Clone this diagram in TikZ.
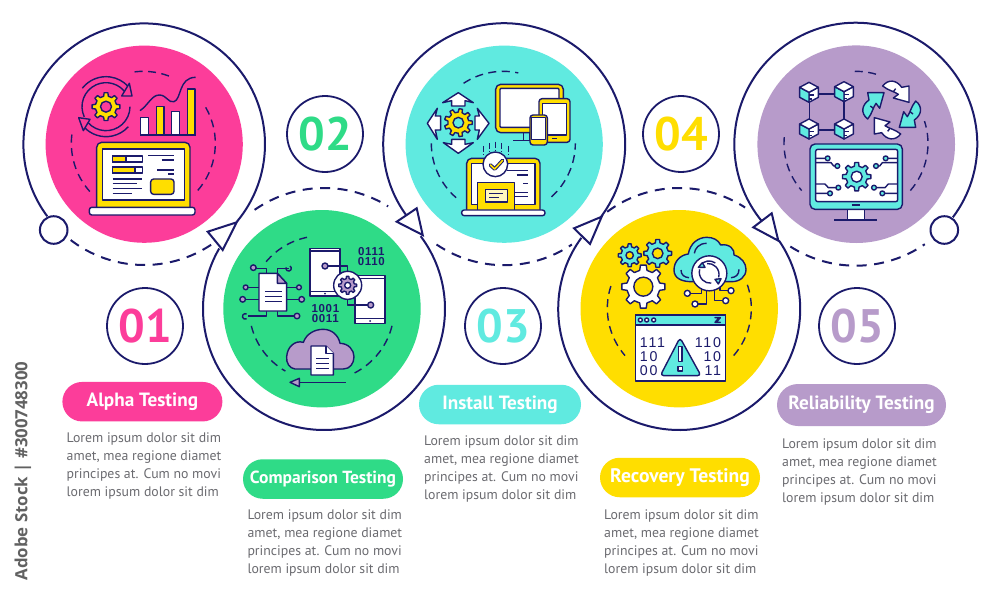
\documentclass[tikz,border=0pt]{standalone}
\usepackage{fontspec}
\setmainfont{PT Sans}
\newfontfamily\binfont[LetterSpace=6]{Liberation Sans}
\newfontfamily\binbig[LetterSpace=13]{Liberation Sans}
\newfontfamily\wmfont{Open Sans}
\usetikzlibrary{shapes.misc,calc}
\definecolor{navy}{HTML}{1B1A6B}
\definecolor{cpink}{HTML}{FC3D9A}
\definecolor{cgreen}{HTML}{2FDB87}
\definecolor{ccyan}{HTML}{60EAE0}
\definecolor{cyell}{HTML}{FFDE00}
\definecolor{cpurp}{HTML}{B79BCA}
\definecolor{ctext}{HTML}{6B6B70}
\tikzset{
  ring/.style={draw=navy,line width=2pt},
  ringdash/.style={draw=navy,line width=2pt,dash pattern=on 10pt off 7.5pt},
  innerdash/.style={draw=navy,line width=1.4pt,dash pattern=on 8pt off 5.5pt},
  ic/.style={draw=navy,line width=1.4pt,line join=round},
  numc/.style={circle,draw=navy,line width=1.8pt,fill=white,minimum size=76pt,inner sep=0pt,font=\bfseries\fontsize{47}{47}\selectfont},
  pill/.style={rounded rectangle,minimum width=160pt,minimum height=39.5pt,inner sep=0pt,text=white,font=\bfseries\fontsize{19.2}{20}\selectfont},
  lorem/.style={anchor=north west,inner sep=0pt,align=left,text=ctext,font=\fontsize{13.8}{17.7}\selectfont},
  binsm/.style={inner sep=0pt,text=navy,font=\binfont\bfseries\fontsize{11.5}{12}\selectfont},
  binlg/.style={inner sep=0pt,text=navy,font=\binbig\fontsize{14.2}{15}\selectfont},
}
\newcommand{\gearz}[7]{%
  \draw[ic,fill=#7,shift={(#1,#2)}] ({(1-.28)*360/#6}:#4pt)
    \foreach \k in {1,...,#6}{ -- ({(\k-.28)*360/#6}:#4pt) -- ({(\k-.17)*360/#6}:#3pt) -- ({(\k+.17)*360/#6}:#3pt) -- ({(\k+.28)*360/#6}:#4pt)} -- cycle;
}
\newcommand{\gearhole}[4]{\draw[ic,fill=#4] (#1,#2) circle[radius=#3pt];}
\newcommand{\cube}[2]{%
  \begin{scope}[shift={(#1,#2)}]
    \draw[ic,fill=white] (0,0) -- (28,-15) -- (28,15) -- (0,30) -- cycle;
    \draw[ic,fill=ccyan] (0,0) -- (-28,-15) -- (-28,15) -- (0,30) -- cycle;
    \draw[ic,fill=white] (0,0) -- (-28,-15) -- (0,-30) -- (28,-15) -- cycle;
    \draw[ic] (0,8) -- (14,8) (0,20) -- (10,20);
  \end{scope}}
\newcommand{\recy}[2]{%
  \begin{scope}[rotate=#1]
    \draw[ic,fill=#2] (-27,-72) .. controls (-10,-94) and (15,-90) .. (30,-68) -- (52,-72) -- (52,-23) -- (5,-36) -- (20,-47) .. controls (8,-56) and (-10,-58) .. (-27,-72) -- cycle;
    \draw[ic] (5,-55) -- (12,-64);
  \end{scope}}
\newcommand{\loremtext}{Lorem ipsum dolor sit dim\\amet, mea regione diamet\\principes at. Cum no movi\\lorem ipsum dolor sit dim}
\newcommand{\pilltext}[1]{\raisebox{-1pt}{#1}}
\begin{document}
\begin{tikzpicture}[x=1pt,y=-1pt]
\useasboundingbox (0,0) rectangle (1000,599);
\fill[white] (0,0) rectangle (1000,599);

% centres
\coordinate (c1) at (144.2,144.2);
\coordinate (c2) at (324,309);
\coordinate (c3) at (504.2,144.2);
\coordinate (c4) at (679.2,309);
\coordinate (c5) at (855.8,144.2);

% filled discs
\fill[cpink] (144.2,144.2) circle[radius=98.6pt];
\fill[cgreen] (322,308.7) circle[radius=98.7pt];
\fill[ccyan] (504.2,144.2) circle[radius=98.6pt];
\fill[cyell] (679.2,308.7) circle[radius=98.7pt];
\fill[cpurp] (856.2,144.2) circle[radius=98.8pt];

% rings
\draw[ring] ([shift={(216.6:120.8pt)}]c1) arc[start angle=216.6,end angle=-40,radius=120.8pt];
\draw[ringdash] ([shift={(232.5:120.8pt)}]c1) arc[start angle=232.5,end angle=304,radius=120.8pt];
\draw[ring] ([shift={(150:121pt)}]c2) arc[start angle=150,end angle=397,radius=121pt];
\draw[ringdash] ([shift={(125:121pt)}]c2) arc[start angle=125,end angle=58,radius=121pt];
\draw[ring] ([shift={(216:121pt)}]c3) arc[start angle=216,end angle=-36.6,radius=121pt];
\draw[ringdash] ([shift={(236:121pt)}]c3) arc[start angle=236,end angle=304,radius=121pt];
\draw[ring] ([shift={(144:121pt)}]c4) arc[start angle=144,end angle=394.5,radius=121pt];
\draw[ringdash] ([shift={(126.5:121pt)}]c4) arc[start angle=126.5,end angle=57,radius=121pt];
\draw[ring] ([shift={(219.6:121.5pt)}]c5) arc[start angle=219.6,end angle=-37,radius=121.5pt];
\draw[ringdash] ([shift={(237.4:121.5pt)}]c5) arc[start angle=237.4,end angle=304.6,radius=121.5pt];

% arrow triangles
\draw[ring,fill=white,line join=miter] (207.7,231.7) -- (236.7,222.3) -- (222.7,250) -- cycle;
\draw[ring,fill=white,line join=miter] (396.7,221.7) -- (416.7,208.3) -- (422.7,235) -- cycle;
\draw[ring,fill=white,line join=miter] (574,228.3) -- (601.7,216.7) -- (590,244) -- cycle;
\draw[ring,fill=white,line join=miter] (753.3,227.3) -- (771.7,213.3) -- (778.3,240.7) -- cycle;
% small end circles
\draw[ring,fill=white] (53.7,230) circle[radius=13.8pt];
\draw[ring,fill=white] (944.3,230) circle[radius=13.8pt];

% numbers
\node[numc,text=cpink] (n1) at (145,326) {01};
\node[numc,text=cgreen] (n2) at (325,134) {02};
\node[numc,text=ccyan] (n3) at (503,326) {03};
\node[numc,text=cyell] (n4) at (681,134) {04};
\node[numc,text=cpurp] (n5) at (857,326) {05};

% pills
\node[pill,fill=cpink] (p1) at (142.4,401.7) {\pilltext{Alpha Testing}};
\node[pill,fill=cgreen,font=\bfseries\fontsize{17.5}{20}\selectfont] (p2) at (323,479) {\pilltext{Comparison Testing}};
\node[pill,fill=ccyan,minimum width=162pt] (p3) at (500,404.5) {\pilltext{Install Testing}};
\node[pill,fill=cyell,minimum width=160pt,font=\bfseries\fontsize{19.6}{20}\selectfont] (p4) at (680,477.5) {\pilltext{Recovery Testing}};
\node[pill,fill=cpurp,minimum width=169pt,minimum height=42pt] (p5) at (861.5,405) {\pilltext{Reliability Testing}};

% lorem
\node[lorem] (t1) at (66.5,433) {\loremtext};
\node[lorem] (t2) at (247.3,510) {\loremtext};
\node[lorem] (t3) at (424,436) {\loremtext};
\node[lorem] (t4) at (604,510) {\loremtext};
\node[lorem] (t5) at (782,439) {\loremtext};

% watermark text
\node[rotate=90,inner sep=0pt,text=black!62,font=\wmfont\bfseries\fontsize{16.8}{18}\selectfont] (wm) at (23,471) {Adobe Stock | \#300748300};

%%%% ICON 1
\begin{scope}[shift={(20,20)},x=0.33333pt,y=-0.33333pt]
  \coordinate (i1) at (370,370);
  \draw[innerdash] ([shift={(97:72pt)}]i1) arc[start angle=97,end angle=65,radius=72pt];
  \draw[innerdash] ([shift={(30:72pt)}]i1) arc[start angle=30,end angle=-43,radius=72pt];
  \draw[innerdash] ([shift={(173:72pt)}]i1) arc[start angle=173,end angle=222,radius=72pt];
  % gear & arrows
  \coordinate (g1) at (258,260);
  \draw[ic] ([shift={(142:30pt)}]g1) arc[start angle=142,end angle=42,radius=30pt];
  \draw[ic] ([shift={(205:24pt)}]g1) arc[start angle=205,end angle=32,radius=24pt];
  \draw[ic] ([shift={(222:30pt)}]g1) arc[start angle=222,end angle=318,radius=30pt];
  \draw[ic] ([shift={(222:24pt)}]g1) arc[start angle=222,end angle=360,radius=24pt];
  \draw[ic,fill=cpink] (305,228) -- (336,228) -- (328,190) -- cycle;
  \draw[ic,fill=cpink] (176,293) -- (210,298) -- (190,332) -- cycle;
  \gearz{258}{260}{14}{10.7}{5.5}{8}{cyell}
  \gearhole{258}{260}{5.5}{cpink}
  % chart
  \draw[ic,fill=white] (362,293) rectangle (385,345);
  \draw[ic,fill=cyell] (410,260) rectangle (432,345);
  \draw[ic,fill=white] (455,275) rectangle (478,345);
  \draw[ic,fill=cyell] (502,207) rectangle (525,345);
  \draw[ic] (360,345) -- (527,345);
  \draw[ic] (360,272) .. controls (385,255) and (395,225) .. (418,225) .. controls (440,225) and (445,250) .. (462,245) .. controls (485,238) and (475,172) .. (527,172);
  % laptop
  \draw[ic,fill=cyell,rounded corners=5pt] (230,565) -- (230,367) -- (510,367) -- (510,565);
  \draw[ic,fill=white] (247,387) rectangle (493,540);
  \draw[ic,fill=white,rounded corners=2.5pt] (208,562) rectangle (525,585);
  \draw[ic,fill=white] (278,408) rectangle (367,426);
  \draw[ic,fill=cyell] (278,408) rectangle (318,426);
  \draw[ic,fill=white] (278,441) rectangle (367,459);
  \draw[ic,fill=cyell] (278,441) rectangle (345,459);
  \draw[ic] (385,407) -- (462,407) (425,420) -- (462,420) (412,450) -- (462,450) (445,462) -- (462,462);
  \draw[ic] (278,477) -- (367,477) (278,491) -- (352,491) (278,506) -- (367,506) (278,521) -- (337,521);
  \draw[ic,fill=cyell,rounded corners=3pt] (392,477) rectangle (462,523);
\end{scope}

%%%% ICON 2
\begin{scope}[shift={(200,180)},x=0.33333pt,y=-0.33333pt]
  \coordinate (i2) at (365,385);
  \draw[innerdash] ([shift={(140:72.5pt)}]i2) arc[start angle=140,end angle=101,radius=72.5pt];
  \draw[innerdash] ([shift={(194:72.5pt)}]i2) arc[start angle=194,end angle=240,radius=72.5pt];
  \draw[innerdash] ([shift={(297:72.5pt)}]i2) arc[start angle=297,end angle=347,radius=72.5pt];
  % circuit doc
  \draw[ic] (200,280) -- (200,265) -- (165,265) (232,280) -- (232,265) -- (268,265);
  \draw[ic] (177,322) -- (142,322) (177,358) -- (134,358) (200,393) -- (200,408) -- (145,408);
  \draw[ic] (260,322) -- (292,322) (260,358) -- (300,358) (232,393) -- (232,408) -- (285,408);
  \foreach \p/\q/\r in {160/263/2.8,137/322/2.4,128/358/2.8,297/322/2.4,305/358/2.8,291/408/2.8}
    \draw[ic,fill=cpurp] (\p,\q) circle[radius=\r pt];
  \draw[ic] (270,258) arc[start angle=60,end angle=-200,radius=2.7pt];
  \draw[ic] (140,402) arc[start angle=60,end angle=300,radius=2.8pt];
  \draw[ic,fill=white] (177,280) -- (232,280) -- (260,310) -- (260,393) -- (177,393) -- cycle;
  \draw[ic,fill=cpurp] (232,280) -- (232,310) -- (260,310) -- cycle;
  \draw[ic] (195,335) -- (245,335) (195,350) -- (245,350) (195,365) -- (245,365);
  % tablets
  \draw[ic,fill=white] (330,205) rectangle (420,348);
  \draw[ic] (330,213) -- (420,213) (330,335) -- (420,335);
  \fill[navy] (375,341) circle[radius=1pt];
  \draw[ic,fill=white] (465,287) rectangle (555,430);
  \draw[ic] (465,296) -- (555,296) (465,416) -- (555,416);
  \fill[navy] (510,423) circle[radius=1pt];
  \draw[ic] (384,258) -- (443,258) -- (443,375) -- (503,375);
  \draw[ic,fill=cpurp] (375,258) circle[radius=3pt];
  \draw[ic,fill=cpurp] (512,375) circle[radius=3pt];
  \draw[ic,fill=white] (443,316) circle[radius=14pt];
  \gearz{443}{316}{9}{6.8}{3}{8}{cpurp}
  \gearhole{443}{316}{3}{white}
  \node[binsm] (b1) at (514,216) {0111};
  \node[binsm] (b2) at (514,246) {0110};
  \node[binsm] (b3) at (376,385) {1001};
  \node[binsm] (b4) at (376,417) {0011};
  % cloud
  \draw[ic,fill=cpurp] (285,567) .. controls (268,565) and (258,548) .. (260,530) .. controls (262,500) and (285,480) .. (310,487) .. controls (320,460) and (345,448) .. (370,448) .. controls (395,448) and (415,465) .. (420,490) .. controls (445,490) and (462,510) .. (462,530) .. controls (462,550) and (450,567) .. (430,567) -- cycle;
  \draw[ic,fill=white] (333,498) -- (378,498) -- (400,520) -- (400,585) -- (333,585) -- cycle;
  \draw[ic,fill=white] (378,498) -- (378,520) -- (400,520);
  \draw[ic] (348,535) -- (388,535) (348,550) -- (388,550) (348,565) -- (388,565);
  \draw[ic] (437,607) -- (298,607);
  \draw[ic,fill=cpurp] (298,595) -- (298,620) -- (270,607) -- cycle;
\end{scope}

%%%% ICON 3
\begin{scope}[shift={(380,20)},x=0.33333pt,y=-0.33333pt]
  \coordinate (i3) at (370,370);
  \draw[innerdash] ([shift={(123.5:72pt)}]i3) arc[start angle=123.5,end angle=78,radius=72pt];
  \draw[innerdash] ([shift={(180:72pt)}]i3) arc[start angle=180,end angle=229,radius=72pt];
  \draw[innerdash] ([shift={(312:72pt)}]i3) arc[start angle=312,end angle=360,radius=72pt];
  % arrows
  \draw[ic,fill=white] (188,248) -- (235,218) -- (280,248) -- (255,242) -- (255,258) -- (215,258) -- (215,242) -- cycle;
  \draw[ic,fill=white] (190,368) -- (235,400) -- (280,368) -- (255,373) -- (255,358) -- (215,358) -- (215,373) -- cycle;
  \draw[ic,fill=white] (142,310) -- (172,265) -- (166,288) -- (182,288) -- (182,330) -- (166,330) -- (172,358) -- cycle;
  \draw[ic,fill=white] (327,310) -- (292,265) -- (298,288) -- (285,288) -- (285,330) -- (298,330) -- (292,358) -- cycle;
  \gearz{235}{308}{14}{10.5}{5.3}{9}{cyell}
  \gearhole{235}{308}{5.3}{ccyan}
  % devices
  \draw[ic] (430,338) -- (430,362) (448,338) -- (448,362) (400,362) -- (470,362);
  \draw[ic,fill=cyell,rounded corners=5pt] (347,193) rectangle (550,338);
  \draw[ic,fill=white,rounded corners=1pt] (360,205) rectangle (537,322);
  \draw[ic,fill=cyell,rounded corners=3pt] (477,236) rectangle (570,367);
  \draw[ic,fill=white] (488,250) rectangle (560,345);
  \draw[ic] (516,356) -- (530,356);
  \draw[ic,fill=cyell,rounded corners=3pt] (450,285) rectangle (502,375);
  \draw[ic,fill=white] (455,292) rectangle (497,358);
  % laptop
  \draw[ic,fill=cyell,rounded corners=5pt] (260,575) -- (260,415) -- (480,415) -- (480,575);
  \draw[ic,fill=white] (275,430) rectangle (465,553);
  \draw[ic] (380,452) -- (443,452) (410,465) -- (443,465) (430,490) -- (443,490) (405,518) -- (443,518) (405,530) -- (443,530);
  \draw[ic,fill=cyell] (293,487) rectangle (403,572);
  \draw[ic,fill=white!75!cyell] (316,508) rectangle (382,546);
  \draw[ic] (328,521) -- (370,521) (328,533) -- (358,533);
  \draw[ic,fill=white,rounded corners=2.5pt] (245,570) rectangle (495,587);
  \draw[ic,dash pattern=on 6pt off 2pt] (310,378) -- (310,405) (328,370) -- (328,395) (347,365) -- (347,390) (365,370) -- (365,395) (385,378) -- (385,405);
  \draw[ic,fill=white] (346,433) circle[radius=12.3pt];
  \draw[navy,line width=3.6pt,line cap=round,line join=round] (331,435) -- (344,447) -- (368,421);
  \draw[cyell,line width=1.6pt,line cap=round,line join=round] (331,435) -- (344,447) -- (368,421);
\end{scope}

%%%% ICON 4
\begin{scope}[shift={(555,180)},x=0.33333pt,y=-0.33333pt]
  \coordinate (i4) at (373,385);
  \draw[innerdash] ([shift={(162:72pt)}]i4) arc[start angle=162,end angle=221,radius=72pt];
  \draw[innerdash] ([shift={(319:72pt)}]i4) arc[start angle=319,end angle=381,radius=72pt];
  \gearz{224}{226}{11.5}{8.7}{3.7}{8}{ccyan}
  \gearhole{224}{226}{3.7}{cyell}
  \gearz{308}{220}{14}{10.7}{5.3}{8}{ccyan}
  \gearhole{308}{220}{5.3}{cyell}
  \gearz{265}{320}{21.7}{16.7}{9.5}{8}{white}
  \gearhole{265}{320}{9.5}{cyell}
  % cloud
  \draw[ic,fill=ccyan] (410,305) .. controls (380,305) and (357,295) .. (357,270) .. controls (357,245) and (375,225) .. (400,222) .. controls (405,190) and (430,172) .. (455,172) .. controls (475,172) and (490,180) .. (497,195) .. controls (525,190) and (540,210) .. (537,225) .. controls (560,232) and (573,250) .. (573,268) .. controls (573,290) and (555,305) .. (530,305) -- cycle;
  \draw[ic] (378,270) .. controls (378,285) and (388,292) .. (402,293);
  \draw[ic] (552,268) .. controls (552,285) and (542,292) .. (528,293);
  \draw[ic] (418,220) .. controls (420,205) and (432,190) .. (455,190);
  % circuit
  \draw[ic] (440,325) -- (440,340) -- (405,340) (455,330) -- (455,372) -- (429,372) (478,330) -- (478,362) -- (503,362) (495,320) -- (495,332) -- (519,332);
  \foreach \p/\q in {397/340,420/372,512/362,528/332}
    \draw[ic,fill=white] (\p,\q) circle[radius=3pt];
  \draw[ic,fill=white] (463,280) circle[radius=17.5pt];
  \draw[ic] (463,243) ++(-28,14) arc[start angle=145,end angle=55,radius=11pt];
  \draw[ic] (434,268) arc[start angle=165,end angle=275,radius=11pt];
  \draw[ic] (491,292) arc[start angle=-15,end angle=95,radius=11pt];
  \draw[ic,fill=ccyan] (430,262) -- (450,262) -- (442,248) -- cycle;
  \draw[ic,fill=ccyan] (480,298) -- (498,296) -- (490,312) -- cycle;
  % window
  \draw[ic,fill=white] (241,405) rectangle (511,603);
  \draw[ic,fill=ccyan] (241,405) rectangle (511,435);
  \foreach \p in {256,275,296}
    \draw[ic,fill=white] (\p,420) circle[radius=2pt];
  \draw[ic,fill=white] (480,413) -- (496,413) -- (484,427) -- (496,427) -- (480,427) -- (492,413) -- cycle;
  \node[binlg,anchor=west] (w1) at (254,488) {111};
  \node[binlg,anchor=east] (w2) at (499,488) {110};
  \node[binlg,anchor=west] (w3) at (254,530) {10};
  \node[binlg,anchor=east] (w4) at (499,530) {10};
  \node[binlg,anchor=west] (w5) at (254,572) {00};
  \node[binlg,anchor=east] (w6) at (499,572) {11};
  \draw[ic,fill=ccyan,rounded corners=3.5pt] (375,473) -- (438,587) -- (316,587) -- cycle;
  \draw[ic,fill=white] (370,500) rectangle (381,545);
  \draw[ic,fill=white] (369,560) rectangle (382,573);
\end{scope}

%%%% ICON 5
\begin{scope}[shift={(730,20)},x=0.33333pt,y=-0.33333pt]
  \coordinate (i5) at (378,370);
  \draw[innerdash] ([shift={(91:72pt)}]i5) arc[start angle=91,end angle=73,radius=72pt];
  \draw[innerdash] ([shift={(175:72pt)}]i5) arc[start angle=175,end angle=221,radius=72pt];
  \draw[innerdash] ([shift={(319:72pt)}]i5) arc[start angle=319,end angle=378,radius=72pt];
  % cubes
  \draw[ic] (260,222) -- (320,222) (238,245) -- (238,300) (342,245) -- (342,300) (262,330) -- (318,330);
  \cube{237}{217}
  \cube{342}{215}
  \cube{237}{327}
  \cube{342}{327}
  % recycling arrows
  \begin{scope}[shift={(485,270)}]
    \recy{0}{white}
    \recy{-90}{ccyan}
    \recy{-180}{white}
    \recy{-270}{ccyan}
  \end{scope}
  % monitor
  \draw[ic,fill=white] (352,568) rectangle (403,600);
  \draw[ic] (312,600) -- (442,600);
  \draw[ic,fill=ccyan,rounded corners=5pt] (240,372) rectangle (517,568);
  \draw[ic,fill=white,rounded corners=2pt] (257,388) rectangle (503,545);
  \draw[ic] (365,555) -- (390,555);
  \gearz{380}{470}{14.3}{10.7}{5.5}{8}{ccyan}
  \gearhole{380}{470}{5.5}{white}
  \draw[ic] (258,415) -- (286,415) (258,428) -- (303,428) -- (311,438) -- (315,438) (258,492) -- (285,492) -- (295,503) -- (318,503) (258,520) -- (293,520);
  \draw[ic] (503,415) -- (474,415) (503,428) -- (457,428) -- (449,438) -- (445,438) (503,492) -- (475,492) -- (465,503) -- (439,503) (503,520) -- (464,520);
  \foreach \p/\q in {293/415,322/438,325/503,300/520,467/415,438/438,432/503,457/520}
    \draw[ic,fill=ccyan] (\p,\q) circle[radius=2.4pt];
\end{scope}
\end{tikzpicture}
\end{document}
